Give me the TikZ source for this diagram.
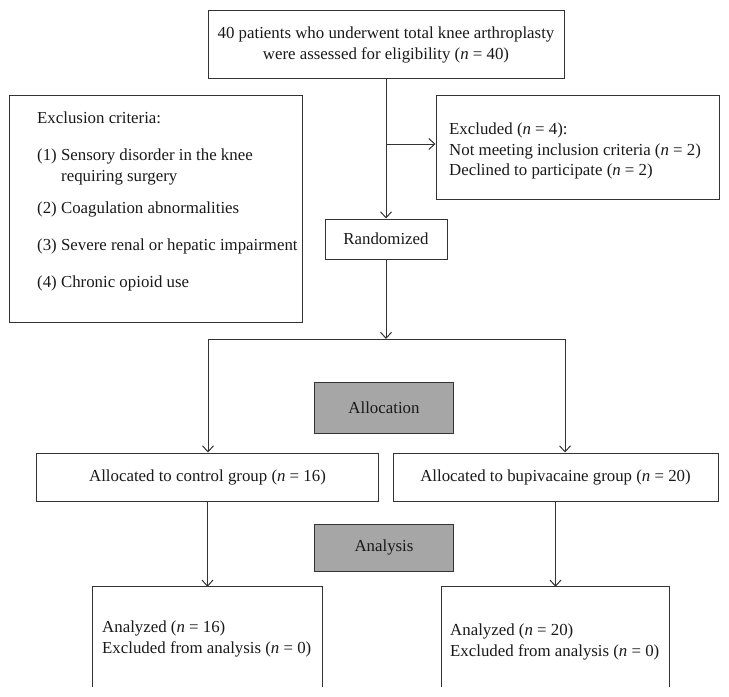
\documentclass[tikz,border=0pt]{standalone}
\usepackage{fontspec}
\setmainfont{Liberation Serif}
\usetikzlibrary{arrows.meta}
\definecolor{linec}{HTML}{333333}
\definecolor{grayfill}{HTML}{A6A6A6}
\begin{document}
\begin{tikzpicture}[x=1bp,y=-1bp,
  every node/.style={font=\fontsize{16.9}{21}\selectfont, text=black!90},
  box/.style={draw=linec, line width=1bp, inner sep=0pt, align=center},
  graybox/.style={box, fill=grayfill},
  txt/.style={inner sep=0pt, anchor=west, align=left},
  conn/.style={draw=linec, line width=1bp},
  arr/.style={conn, -{Straight Barb[length=6bp,width=11bp]}}
]
\useasboundingbox (0,0) rectangle (729,697);

% boxes
\node[box, minimum width=356bp, minimum height=68bp] (top) at (386,45)
  {40 patients who underwent total knee arthroplasty\\were assessed for eligibility (\textit{n} = 40)};
\node[box, minimum width=292bp, minimum height=226bp] (crit) at (156,209) {};
\node[box, minimum width=283bp, minimum height=103bp] (excl) at (577.5,147.5) {};
\node[box, minimum width=122bp, minimum height=40bp] (rand) at (386,239) {Randomized};
\node[graybox, minimum width=139bp, minimum height=51bp] (alloc) at (384,407.5) {Allocation};
\node[box, minimum width=341bp, minimum height=48bp] (allocL) at (207.5,477) {Allocated to control group (\textit{n} = 16)};
\node[box, minimum width=325bp, minimum height=48bp] (allocR) at (555.5,477) {Allocated to bupivacaine group (\textit{n} = 20)};
\node[graybox, minimum width=139bp, minimum height=47bp] (anal) at (384,547.5) {Analysis};
\node[inner sep=0pt, minimum width=229bp, minimum height=100bp] (resL) at (207.5,637) {};
\node[inner sep=0pt, minimum width=227bp, minimum height=100bp] (resR) at (555.5,637) {};
\draw[conn] (resL.south west) -- (resL.north west) -- (resL.north east) -- (resL.south east);
\draw[conn] (resR.south west) -- (resR.north west) -- (resR.north east) -- (resR.south east);

% texts
\node[txt] (c0) at (37,118) {Exclusion criteria:};
\node[txt] (c1) at (37,156) {(1) Sensory disorder in the knee};
\node[txt] (c1b) at (61,178) {requiring surgery};
\node[txt] (c2) at (37,209) {(2) Coagulation abnormalities};
\node[txt] (c3) at (37,246) {(3) Severe renal or hepatic impairment};
\node[txt] (c4) at (37,283) {(4) Chronic opioid use};
\node[txt] (et) at (449,151) {Excluded (\textit{n} = 4):\\Not meeting inclusion criteria (\textit{n} = 2)\\Declined to participate (\textit{n} = 2)};
\node[txt] (rtL) at (102,639) {Analyzed (\textit{n} = 16)\\Excluded from analysis (\textit{n} = 0)};
\node[txt] (rtR) at (450,642) {Analyzed (\textit{n} = 20)\\Excluded from analysis (\textit{n} = 0)};

% connectors
\coordinate (br) at (386,144);
\coordinate (split) at (386,339);
\coordinate (sl) at (208,339);
\coordinate (sr) at (565,339);
\draw[arr] (top.south) -- (rand.north);
\draw[arr] (br) -- (excl.west |- br);
\draw[arr] (rand.south) -- (split);
\draw[conn] (sl) -- (sr);
\draw[arr] (sl) -- (sl |- allocL.north);
\draw[arr] (sr) -- (sr |- allocR.north);
\draw[arr] (allocL.south) -- (resL.north);
\draw[arr] (allocR.south) -- (resR.north);
\end{tikzpicture}
\end{document}
